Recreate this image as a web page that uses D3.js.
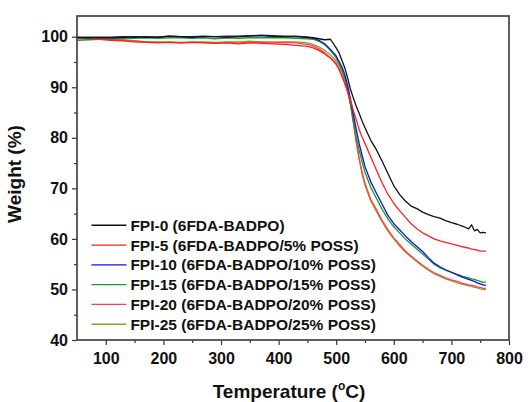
<!DOCTYPE html>
<html>
<head>
<style>
body {margin: 0; font-family: Arial, "Liberation Sans", sans-serif; background: #fff;}
</style>
<script src="https://cdnjs.cloudflare.com/ajax/libs/d3/7.8.5/d3.min.js"></script>
</head>
<body>
<div id="chart-container"></div>
<script>
    const temps = [50, 70, 90, 110, 130, 150, 170, 190, 210, 230, 250, 270, 290, 310, 330, 350, 370, 390, 410, 430,
        450, 460, 470, 480, 490, 500, 505, 510, 515, 520, 525, 530, 535, 540, 545, 550, 560, 570, 580, 590,
        600, 610, 620, 630, 640, 650, 660, 670, 680, 690, 700, 710, 720, 730, 735, 740, 745, 750, 755, 760];

    const fpi0 = [99.9, 99.8, 99.9, 99.8, 99.9, 100.0, 99.9, 99.9, 100.1, 100.0, 99.9, 100.0, 100.0, 99.9, 100.0, 100.1, 100.2, 100.0, 100.0, 100.0,
        99.9, 99.8, 99.6, 99.4, 99.5, 97.8, 96.8, 95.3, 93.8, 91.8, 89.5, 87.8, 86.2, 84.8, 83.3, 82.0, 79.5, 77.6, 75.3, 72.9,
        70.5, 68.8, 67.5, 66.5, 66.0, 65.3, 64.8, 64.4, 64.1, 63.6, 63.2, 62.9, 62.5, 62.0, 62.8, 61.6, 61.9, 61.2, 61.3, 61.2];
    const fpi5 = [99.8, 99.7, 99.5, 99.3, 99.2, 99.0, 98.9, 98.8, 98.9, 98.8, 98.9, 98.8, 98.7, 98.8, 98.6, 98.8, 98.7, 98.6, 98.5, 98.3,
        98.1, 97.8, 97.3, 96.6, 95.8, 94.7, 93.6, 92.2, 90.7, 89.1, 87.3, 85.3, 83.5, 81.6, 80.1, 78.9, 76.2, 73.6, 71.0, 68.8,
        67.0, 65.6, 64.3, 63.0, 62.0, 61.2, 60.6, 60.0, 59.6, 59.3, 59.0, 58.7, 58.4, 58.2, 58.0, 57.9, 57.8, 57.6, 57.6, 57.6];
    const fpi10 = [99.8, 99.9, 99.8, 99.9, 100.0, 99.9, 100.0, 99.9, 100.1, 100.0, 100.0, 100.1, 100.0, 100.1, 100.1, 100.2, 100.3, 100.2, 100.1, 100.1,
        99.9, 99.7, 99.3, 98.6, 97.5, 96.2, 95.1, 94.0, 92.5, 90.3, 87.5, 84.5, 81.5, 78.8, 76.5, 74.3, 71.3, 69.0, 66.8, 64.6,
        63.0, 61.8, 60.6, 59.5, 58.5, 57.5, 56.3, 55.2, 54.5, 53.9, 53.4, 52.9, 52.4, 52.0, 51.8, 51.6, 51.3, 51.1, 50.9, 50.8];
    const fpi15 = [99.3, 99.4, 99.5, 99.6, 99.7, 99.7, 99.8, 99.7, 99.8, 99.8, 99.7, 99.8, 99.6, 99.8, 99.7, 99.8, 99.8, 99.8, 99.8, 99.7,
        99.6, 99.5, 99.1, 98.4, 97.3, 95.8, 94.7, 93.5, 91.8, 89.5, 86.5, 83.2, 80.0, 77.5, 75.2, 73.2, 70.2, 68.0, 65.8, 63.9,
        62.4, 61.2, 60.0, 59.0, 58.0, 57.0, 56.0, 55.0, 54.3, 53.8, 53.4, 53.0, 52.6, 52.3, 52.1, 52.0, 51.8, 51.6, 51.4, 51.5];
    const fpi20 = [99.7, 99.6, 99.5, 99.4, 99.3, 99.1, 99.0, 98.9, 98.9, 98.8, 98.9, 98.9, 98.8, 98.9, 98.8, 98.9, 98.9, 98.8, 98.9, 98.8,
        98.5, 98.2, 97.6, 96.8, 95.8, 94.5, 93.5, 92.3, 90.8, 89.0, 86.5, 82.8, 79.0, 75.8, 73.2, 71.0, 67.8, 65.8, 63.6, 61.8,
        60.2, 58.9, 57.6, 56.6, 55.7, 54.8, 54.0, 53.3, 52.8, 52.3, 51.9, 51.6, 51.2, 50.9, 50.8, 50.7, 50.5, 50.4, 50.2, 50.2];
    const fpi25 = [99.8, 99.7, 99.6, 99.5, 99.4, 99.2, 99.0, 99.0, 99.0, 98.9, 99.0, 99.0, 98.9, 99.0, 99.0, 99.1, 99.0, 99.0, 99.0, 99.0,
        98.8, 98.5, 98.0, 97.3, 96.4, 95.2, 94.2, 93.0, 91.4, 89.4, 86.8, 83.0, 79.2, 75.8, 72.8, 70.6, 67.5, 65.4, 63.3, 61.5,
        60.0, 58.6, 57.4, 56.4, 55.5, 54.6, 53.8, 53.1, 52.6, 52.1, 51.7, 51.3, 51.0, 50.7, 50.6, 50.4, 50.3, 50.1, 50.0, 49.9];

    const seriesNames = ["FPI-0 (6FDA-BADPO)", "FPI-5 (6FDA-BADPO/5% POSS)", "FPI-10 (6FDA-BADPO/10% POSS)",
        "FPI-15 (6FDA-BADPO/15% POSS)", "FPI-20 (6FDA-BADPO/20% POSS)", "FPI-25 (6FDA-BADPO/25% POSS)"];
    const seriesValues = [fpi0, fpi5, fpi10, fpi15, fpi20, fpi25];
    const seriesColors = ["#111111", "#ff2020", "#1010e0", "#10a020", "#ff4050", "#9a9a2a"];

    const xTicks = [100, 200, 300, 400, 500, 600, 700, 800];
    const yTicks = [40, 50, 60, 70, 80, 90, 100];

    const containerWidth = 531;
    const containerHeight = 402;
    const margin = { top: 16, right: 22, bottom: 62, left: 77 };
    const width = containerWidth - margin.left - margin.right;
    const height = containerHeight - margin.top - margin.bottom;

    const svg = d3.select("#chart-container")
        .append("svg")
        .attr("width", containerWidth)
        .attr("height", containerHeight)
        .append("g")
        .attr("transform", `translate(${margin.left},${margin.top})`);

    const x = d3.scaleLinear().domain([50, 800]).range([0, width]);
    const y = d3.scaleLinear().domain([40, 104.1]).range([height, 0]);

    // minor ticks first, then major ones with labels
    svg.append("g")
        .attr("transform", `translate(0,${height})`)
        .call(d3.axisBottom(x).tickValues(d3.range(150, 800, 100)).tickSize(3).tickFormat(""))
        .call(g => g.select(".domain").remove());
    svg.append("g")
        .call(d3.axisLeft(y).tickValues(d3.range(45, 100, 10)).tickSize(3).tickFormat(""))
        .call(g => g.select(".domain").remove());

    const xAxis = svg.append("g")
        .attr("transform", `translate(0,${height})`)
        .call(d3.axisBottom(x).tickValues(xTicks).tickSize(5).tickPadding(8));
    const yAxis = svg.append("g")
        .call(d3.axisLeft(y).tickValues(yTicks).tickSize(5).tickPadding(4));

    [xAxis, yAxis].forEach(g => {
        g.select(".domain").remove();
        g.selectAll("text")
            .style("font-family", "Arial, 'Liberation Sans', sans-serif")
            .style("font-size", "16px")
            .style("font-weight", "bold")
            .attr("fill", "#111");
    });
    svg.selectAll(".tick line").attr("stroke", "#333").attr("stroke-width", 1.2);

    // frame
    svg.append("rect")
        .attr("x", 0).attr("y", 0)
        .attr("width", width).attr("height", height)
        .attr("fill", "none")
        .attr("stroke", "#444")
        .attr("stroke-width", 1.7);

    const line = d3.line()
        .x((d, i) => x(temps[i]))
        .y(d => y(d));

    // draw back to front so black sits on top like the original
    const order = [5, 4, 3, 2, 1, 0];
    svg.append("g")
        .selectAll("path")
        .data(order)
        .join("path")
            .attr("d", k => line(seriesValues[k]))
            .attr("fill", "none")
            .attr("stroke", k => seriesColors[k])
            .attr("stroke-width", 1.3)
            .attr("stroke-linejoin", "round");

    // legend
    const legend = svg.append("g")
        .attr("transform", `translate(${x(75)},${y(62.7)})`);
    const rows = legend.selectAll("g")
        .data(seriesNames)
        .join("g")
            .attr("transform", (d, i) => `translate(0,${i * 19.8})`);
    rows.append("line")
        .attr("x1", 0).attr("x2", 35)
        .attr("y1", 0).attr("y2", 0)
        .attr("stroke", (d, i) => seriesColors[i])
        .attr("stroke-width", 1.3);
    rows.append("text")
        .attr("x", 39)
        .attr("y", 5.5)
        .style("font-size", "15.5px")
        .style("font-weight", "bold")
        .attr("fill", "#111")
        .text(d => d);

    // axis titles
    svg.append("text")
        .attr("transform", `translate(${-56},${height / 2 - 4}) rotate(-90)`)
        .attr("text-anchor", "middle")
        .style("font-size", "19px")
        .style("font-weight", "bold")
        .attr("fill", "#111")
        .text("Weight (%)");

    const xt = svg.append("text")
        .attr("x", width / 2 - 4)
        .attr("y", height + 58)
        .attr("text-anchor", "middle")
        .style("font-size", "19px")
        .style("font-weight", "bold")
        .attr("fill", "#111");
    xt.append("tspan").text("Temperature (");
    xt.append("tspan").attr("dy", -8).style("font-size", "12px").text("o");
    xt.append("tspan").attr("dy", 8).text("C)");
</script>
</body>
</html>
